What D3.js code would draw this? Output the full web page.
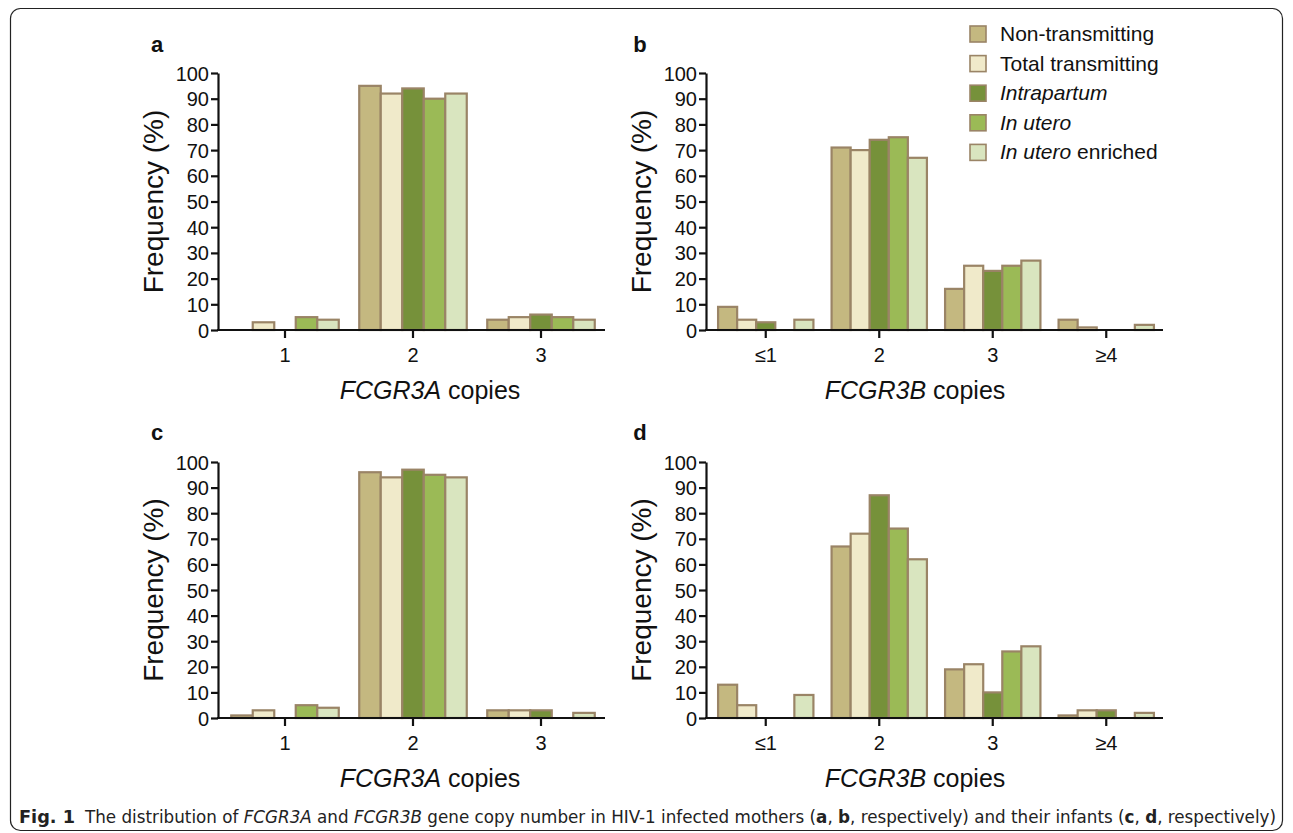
<!DOCTYPE html>
<html lang="en">
<head>
<meta charset="UTF-8">
<title>FCGR3A / FCGR3B copy number</title>
<style>
  body { margin: 0; background: #fff; }
  svg { display: block; font-family: "Liberation Sans", Arial, sans-serif; }
</style>
</head>
<body>
<script src="https://cdn.jsdelivr.net/npm/d3@7/dist/d3.min.js"></script>
<script>
// series and categories
var seriesNames = ["Non-transmitting", "Total transmitting", "Intrapartum", "In utero", "In utero enriched"];
var seriesItalic = [false, false, true, true, true];
var seriesColors = ["#c4b880", "#f0eaca", "#76913a", "#9bba56", "#d9e5bf"];
var catsA = ["1", "2", "3"];
var catsB = ["\u22641", "2", "3", "\u22654"];
var yTicks = [0, 10, 20, 30, 40, 50, 60, 70, 80, 90, 100];

// a: mothers FCGR3A (one array per series, values per category)
var motherA = [[0, 95, 4], [3, 92, 5], [0, 94, 6], [5, 90, 5], [4, 92, 4]];
// b: mothers FCGR3B
var motherB = [[9, 71, 16, 4], [4, 70, 25, 1], [3, 74, 23, 0], [0, 75, 25, 0], [4, 67, 27, 2]];
// c: infants FCGR3A
var infantA = [[1, 96, 3], [3, 94, 3], [0, 97, 3], [5, 95, 0], [4, 94, 2]];
// d: infants FCGR3B
var infantB = [[13, 67, 19, 1], [5, 72, 21, 3], [0, 87, 10, 3], [0, 74, 26, 0], [9, 62, 28, 2]];

var W = 1293, H = 833;
var svg = d3.select("body").append("svg").attr("width", W).attr("height", H);

// frame
svg.append("rect").attr("x", 10.5).attr("y", 8.5).attr("width", 1272).attr("height", 822)
  .attr("rx", 10).attr("fill", "none").attr("stroke", "#222").attr("stroke-width", 1.2);

var panels = [
  { letter: "a", cats: catsA, vals: motherA, gene: "FCGR3A", left: 218, base: 330, top: 73, titleX: 430, lx: 157, ly: 52 },
  { letter: "b", cats: catsB, vals: motherB, gene: "FCGR3B", left: 706, base: 330, top: 73, titleX: 915, lx: 640, ly: 52 },
  { letter: "c", cats: catsA, vals: infantA, gene: "FCGR3A", left: 218, base: 718, top: 462, titleX: 430, lx: 157, ly: 440 },
  { letter: "d", cats: catsB, vals: infantB, gene: "FCGR3B", left: 706, base: 718, top: 462, titleX: 915, lx: 640, ly: 440 }
];

panels.forEach(function (p) {
  var step = p.cats.length === 3 ? 128 : 113.5;
  var x = d3.scaleBand().domain(p.cats).range([p.left + 3, p.left + 3 + step * p.cats.length])
    .paddingInner(0.16).paddingOuter(0.08);
  var xs = d3.scaleBand().domain(d3.range(seriesNames.length)).range([0, x.bandwidth()]);
  var y = d3.scaleLinear().domain([0, 100]).range([p.base, p.top]);
  var g = svg.append("g");

  // bars
  p.vals.forEach(function (serie, si) {
    g.selectAll(null).data(serie.map(function (v, ci) { return { v: v, c: p.cats[ci] }; }).filter(function (d) { return d.v > 0; }))
      .enter().append("rect")
      .attr("x", function (d) { return x(d.c) + xs(si); })
      .attr("y", function (d) { return y(d.v); })
      .attr("width", xs.bandwidth())
      .attr("height", function (d) { return p.base - y(d.v); })
      .attr("fill", seriesColors[si])
      .attr("stroke", "#9a8466").attr("stroke-width", 2.2);
  });

  // axes
  var yAxis = g.append("g").attr("transform", "translate(" + p.left + ",0)")
    .call(d3.axisLeft(y).tickValues(yTicks).tickSize(7).tickSizeOuter(0));
  var xAxis = g.append("g").attr("transform", "translate(0," + p.base + ")")
    .call(d3.axisBottom(x).tickSize(8).tickSizeOuter(0));
  xAxis.select(".domain").attr("d", "M" + (p.left - 1) + ",0H" + (p.left + 3 + step * p.cats.length));
  [yAxis, xAxis].forEach(function (a) {
    a.selectAll(".domain, line").attr("stroke", "#111").attr("stroke-width", 2.2);
    a.selectAll("text").attr("fill", "#111").attr("font-size", 20)
      .attr("font-family", "'Liberation Sans', Arial, sans-serif");
  });
  yAxis.selectAll("text").attr("x", -9).attr("dy", "0.35em");
  xAxis.selectAll("text").attr("y", 18).attr("dy", "0.71em");

  // titles
  svg.append("text")
    .attr("transform", "translate(" + (p.left - 55) + "," + ((p.base + p.top) / 2) + ") rotate(-90)")
    .attr("text-anchor", "middle").attr("font-size", 28).attr("fill", "#111")
    .text("Frequency (%)");
  var xt = svg.append("text").attr("x", p.titleX).attr("y", p.base + 69)
    .attr("text-anchor", "middle").attr("font-size", 25).attr("fill", "#111");
  xt.append("tspan").attr("font-style", "italic").text(p.gene);
  xt.append("tspan").text(" copies");

  svg.append("text").attr("x", p.lx).attr("y", p.ly).attr("text-anchor", "middle")
    .attr("font-size", 22).attr("font-weight", "bold").attr("fill", "#111").text(p.letter);
});

// legend
var leg = svg.append("g").attr("transform", "translate(970,34)");
seriesNames.forEach(function (name, i) {
  var row = leg.append("g").attr("transform", "translate(0," + (i * 29.6) + ")");
  row.append("rect").attr("x", 0).attr("y", -8).attr("width", 16).attr("height", 16)
    .attr("fill", seriesColors[i]).attr("stroke", "#9a8466").attr("stroke-width", 1.6);
  var t = row.append("text").attr("x", 30).attr("y", 7).attr("font-size", 21).attr("fill", "#111");
  if (name === "In utero enriched") {
    t.append("tspan").attr("font-style", "italic").text("In utero");
    t.append("tspan").text(" enriched");
  } else {
    t.attr("font-style", seriesItalic[i] ? "italic" : "normal").text(name);
  }
});

// caption
svg.append("text").attr("x", 19).attr("y", 823).attr("font-size", 18).attr("font-weight", "bold")
  .attr("font-family", "'Liberation Sans Narrow', 'DejaVu Sans Condensed', sans-serif").attr("fill", "#222")
  .attr("textLength", 56).attr("lengthAdjust", "spacingAndGlyphs")
  .text("Fig. 1");
var cap = svg.append("text").attr("x", 85).attr("y", 823).attr("font-size", 18).attr("fill", "#222")
  .attr("font-family", "'Liberation Sans Narrow', 'DejaVu Sans Condensed', sans-serif")
  .attr("textLength", 1191).attr("lengthAdjust", "spacingAndGlyphs");
[["The distribution of ", 0], ["FCGR3A", 1], [" and ", 0], ["FCGR3B", 1],
 [" gene copy number in HIV-1 infected mothers (", 0], ["a", 2], [", ", 0], ["b", 2],
 [", respectively) and their infants (", 0], ["c", 2], [", ", 0], ["d", 2], [", respectively)", 0]]
  .forEach(function (s) {
    var ts = cap.append("tspan").text(s[0]);
    if (s[1] === 1) ts.attr("font-style", "italic");
    if (s[1] === 2) ts.attr("font-weight", "bold");
  });
</script>
</body>
</html>
